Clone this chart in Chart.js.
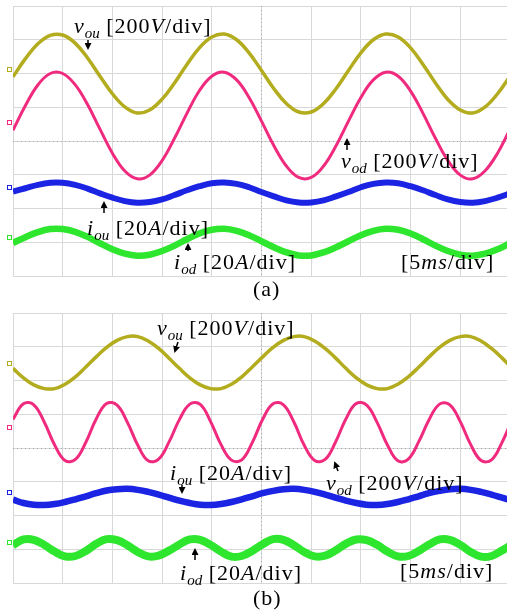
<!DOCTYPE html>
<html>
<head>
<meta charset="utf-8">
<script src="https://cdn.jsdelivr.net/npm/chart.js@4.4.1/dist/chart.umd.min.js"></script>
<style>
  body { margin: 0; background: #fff; }
  #wrap { position: relative; width: 507px; height: 614px; overflow: hidden; }
  canvas { position: absolute; left: 0; }
  #plotA { top: 5px; }
  #plotB { top: 312px; }
  svg { position: absolute; left: 0; top: 0; }
  svg text { font-family: "Liberation Serif", "Times New Roman", serif; font-size: 22px; letter-spacing: 1px; fill: #000; white-space: pre; }
  svg .sub { font-size: 15px; font-style: italic; letter-spacing: 0; }
  svg .it { font-style: italic; }
</style>
</head>
<body>
<div id="wrap">
  <canvas id="plotA" width="507" height="272"></canvas>
  <canvas id="plotB" width="507" height="272"></canvas>
  <svg width="507" height="614">
    <defs>
      <marker id="ah" markerWidth="7" markerHeight="7" refX="5" refY="3.5" orient="auto" markerUnits="userSpaceOnUse">
        <path d="M0,0 L7,3.5 L0,7 z" fill="#000"/>
      </marker>
    </defs>
    <!-- panel (a) -->
    <text x="74" y="33"><tspan class="it">v</tspan><tspan class="sub" dy="5">ou</tspan><tspan dy="-5"> [200</tspan><tspan class="it">V</tspan>/div]</text>
    <line x1="88" y1="40" x2="88" y2="48" stroke="#000" stroke-width="1.5" marker-end="url(#ah)"/>
    <text x="341" y="168"><tspan class="it">v</tspan><tspan class="sub" dy="5">od</tspan><tspan dy="-5"> [200</tspan><tspan class="it">V</tspan>/div]</text>
    <line x1="347" y1="150" x2="347" y2="140" stroke="#000" stroke-width="1.5" marker-end="url(#ah)"/>
    <text x="87" y="235"><tspan class="it">i</tspan><tspan class="sub" dy="5">ou</tspan><tspan dy="-5"> [20</tspan><tspan class="it">A</tspan>/div]</text>
    <line x1="104" y1="213" x2="104" y2="203" stroke="#000" stroke-width="1.5" marker-end="url(#ah)"/>
    <text x="174" y="269"><tspan class="it">i</tspan><tspan class="sub" dy="5">od</tspan><tspan dy="-5"> [20</tspan><tspan class="it">A</tspan>/div]</text>
    <line x1="188" y1="251" x2="188" y2="245" stroke="#000" stroke-width="1.5" marker-end="url(#ah)"/>
    <text x="401" y="269">[5<tspan class="it">ms</tspan>/div]</text>
    <text x="253" y="296">(a)</text>
    <!-- panel (b) -->
    <text x="157" y="335"><tspan class="it">v</tspan><tspan class="sub" dy="5">ou</tspan><tspan dy="-5"> [200</tspan><tspan class="it">V</tspan>/div]</text>
    <line x1="178" y1="342" x2="175" y2="351" stroke="#000" stroke-width="1.5" marker-end="url(#ah)"/>
    <text x="326" y="490"><tspan class="it">v</tspan><tspan class="sub" dy="5">od</tspan><tspan dy="-5"> [200</tspan><tspan class="it">V</tspan>/div]</text>
    <line x1="338" y1="471" x2="335" y2="463" stroke="#000" stroke-width="1.5" marker-end="url(#ah)"/>
    <text x="170" y="480"><tspan class="it">i</tspan><tspan class="sub" dy="5">ou</tspan><tspan dy="-5"> [20</tspan><tspan class="it">A</tspan>/div]</text>
    <line x1="182" y1="485" x2="182" y2="492" stroke="#000" stroke-width="1.5" marker-end="url(#ah)"/>
    <text x="180" y="580"><tspan class="it">i</tspan><tspan class="sub" dy="5">od</tspan><tspan dy="-5"> [20</tspan><tspan class="it">A</tspan>/div]</text>
    <line x1="195" y1="560" x2="195" y2="550" stroke="#000" stroke-width="1.5" marker-end="url(#ah)"/>
    <text x="400" y="578">[5<tspan class="it">ms</tspan>/div]</text>
    <text x="253" y="605">(b)</text>
  </svg>
</div>
<script>
// time axis in ms, vertical values in scope divisions (0 = bottom, 8 = top)
const timeA = [0, 1.25, 2.5, 3.75, 5, 6.25, 7.5, 8.75, 10, 11.25, 12.5, 13.75, 15, 16.25, 17.5, 18.75, 20, 21.25, 22.5, 23.75, 25,
  26.25, 27.5, 28.75, 30, 31.25, 32.5, 33.75, 35, 36.25, 37.5, 38.75, 40, 41.25, 42.5, 43.75, 45, 46.25, 47.5, 48.75, 50];
const vouA = [5.90, 6.44, 6.88, 7.13, 7.14, 6.90, 6.46, 5.92, 5.40, 5.01, 4.83, 4.92, 5.24, 5.72, 6.27, 6.76, 7.08, 7.17, 7.00, 6.61, 6.09,
  5.55, 5.11, 4.86, 4.86, 5.11, 5.55, 6.09, 6.61, 7.00, 7.17, 7.08, 6.76, 6.27, 5.72, 5.23, 4.92, 4.83, 5.01, 5.40, 5.92];
const vodA = [4.32, 5.05, 5.66, 6.00, 6.00, 5.67, 5.08, 4.35, 3.64, 3.11, 2.88, 2.99, 3.42, 4.08, 4.82, 5.49, 5.92, 6.04, 5.81, 5.29, 4.59,
  3.86, 3.26, 2.92, 2.92, 3.26, 3.86, 4.59, 5.29, 5.81, 6.04, 5.92, 5.48, 4.82, 4.08, 3.42, 2.99, 2.88, 3.12, 3.64, 4.35];
const iouA = [2.50, 2.60, 2.70, 2.76, 2.76, 2.70, 2.59, 2.45, 2.32, 2.22, 2.17, 2.19, 2.27, 2.40, 2.54, 2.66, 2.75, 2.77, 2.73, 2.63, 2.49,
  2.36, 2.24, 2.18, 2.18, 2.24, 2.36, 2.49, 2.63, 2.73, 2.77, 2.75, 2.66, 2.54, 2.40, 2.27, 2.19, 2.17, 2.22, 2.32, 2.45];
const iodA = [0.98, 1.15, 1.30, 1.39, 1.39, 1.31, 1.16, 0.97, 0.79, 0.66, 0.60, 0.63, 0.74, 0.90, 1.09, 1.26, 1.37, 1.40, 1.34, 1.21, 1.03,
  0.85, 0.70, 0.61, 0.61, 0.70, 0.85, 1.03, 1.21, 1.34, 1.40, 1.37, 1.26, 1.09, 0.90, 0.74, 0.63, 0.60, 0.66, 0.79, 0.97];

const timeB = [0, 1.05, 2.09, 3.14, 4.19, 5.23, 6.28, 7.33, 8.37, 9.42, 10.47, 11.51, 12.56, 13.6, 14.65, 15.7, 16.74, 17.79, 18.84,
  19.88, 20.93, 21.98, 23.02, 24.07, 25.12, 26.16, 27.21, 28.26, 29.3, 30.35, 31.4, 32.44, 33.49, 34.53, 35.58, 36.63, 37.67,
  38.72, 39.77, 40.81, 41.86, 42.91, 43.95, 45.0, 46.05, 47.09, 48.14, 49.19, 50.23];
const vouB = [6.36, 6.08, 5.87, 5.76, 5.76, 5.89, 6.11, 6.40, 6.70, 6.98, 7.19, 7.30, 7.30, 7.17, 6.95, 6.66, 6.36, 6.08, 5.87,
  5.76, 5.76, 5.89, 6.11, 6.40, 6.70, 6.98, 7.19, 7.30, 7.30, 7.17, 6.95, 6.67, 6.36, 6.08, 5.87, 5.76, 5.76,
  5.89, 6.11, 6.39, 6.70, 6.98, 7.19, 7.30, 7.30, 7.17, 6.95, 6.67, 6.36];
const vodB = [4.85, 5.31, 5.28, 4.77, 4.09, 3.63, 3.66, 4.17, 4.86, 5.32, 5.27, 4.76, 4.08, 3.62, 3.67, 4.18, 4.84, 5.30, 5.29,
  4.78, 4.10, 3.64, 3.65, 4.16, 4.85, 5.31, 5.28, 4.77, 4.08, 3.63, 3.66, 4.17, 4.86, 5.32, 5.27, 4.76, 4.09,
  3.62, 3.67, 4.18, 4.84, 5.30, 5.28, 4.78, 4.10, 3.63, 3.65, 4.16, 4.85];
const iouB = [2.47, 2.37, 2.32, 2.31, 2.34, 2.40, 2.48, 2.57, 2.66, 2.74, 2.78, 2.79, 2.76, 2.70, 2.62, 2.53, 2.44, 2.37, 2.32,
  2.31, 2.34, 2.40, 2.48, 2.57, 2.66, 2.73, 2.78, 2.79, 2.76, 2.70, 2.62, 2.53, 2.44, 2.37, 2.32, 2.31, 2.34,
  2.40, 2.48, 2.57, 2.66, 2.73, 2.78, 2.79, 2.76, 2.70, 2.62, 2.53, 2.44];
const iodB = [1.12, 1.29, 1.28, 1.13, 0.93, 0.79, 0.80, 0.95, 1.16, 1.30, 1.27, 1.12, 0.92, 0.79, 0.81, 0.96, 1.14, 1.29, 1.28,
  1.13, 0.93, 0.78, 0.80, 0.95, 1.15, 1.30, 1.28, 1.12, 0.92, 0.79, 0.81, 0.96, 1.16, 1.29, 1.27, 1.13, 0.93,
  0.79, 0.80, 0.95, 1.14, 1.29, 1.28, 1.13, 0.92, 0.78, 0.80, 0.96, 1.15];

// channel ground markers on the left edge
const refA = [6.1, 4.53, 2.6, 1.13];
const refB = [6.5, 4.6, 2.68, 1.18];

const X_MAX = 49.7;
const colors = ["#b2ac1e", "#f02a7e", "#1c24e4", "#2ee62e"];

function pts(t, v) {
  return t.map((x, i) => ({ x: x, y: v[i] }));
}

const scopeDecor = {
  id: "scopeDecor",
  beforeDatasetsDraw(chart) {
    const { ctx, chartArea, scales } = chart;
    const cy = Math.round(scales.y.getPixelForValue(4)) + 0.5;
    const cx = Math.round(scales.x.getPixelForValue(25)) + 0.5;
    ctx.save();
    ctx.strokeStyle = "#a8a8a8";
    ctx.lineWidth = 1;
    ctx.setLineDash([1, 3]);
    ctx.beginPath();
    ctx.moveTo(chartArea.left, cy);
    ctx.lineTo(chartArea.right, cy);
    ctx.moveTo(cx, chartArea.top);
    ctx.lineTo(cx, chartArea.bottom);
    ctx.stroke();
    ctx.restore();
  },
  afterDatasetsDraw(chart, args, opts) {
    const { ctx, scales } = chart;
    ctx.save();
    ctx.lineWidth = 1;
    opts.levels.forEach((v, i) => {
      const py = Math.round(scales.y.getPixelForValue(v));
      ctx.strokeStyle = colors[i];
      ctx.strokeRect(7.5, py - 2.5, 4, 4);
    });
    ctx.restore();
  },
};

function makeScope(id, t, series, widths, levels) {
  new Chart(document.getElementById(id), {
    type: "line",
    data: {
      datasets: series.map((s, i) => ({
        data: pts(t, s),
        borderColor: colors[i],
        borderWidth: widths[i],
        pointRadius: 0,
        tension: 0.4,
        fill: false,
        borderJoinStyle: "round",
      })),
    },
    options: {
      responsive: false,
      animation: false,
      layout: { padding: { left: 13, top: 1, bottom: 1, right: 0 } },
      plugins: {
        legend: { display: false },
        tooltip: { enabled: false },
        scopeDecor: { levels: levels },
      },
      scales: {
        x: {
          type: "linear",
          min: 0,
          max: X_MAX,
          ticks: { display: false, stepSize: 5, includeBounds: false },
          grid: { color: "#d8d8d8", drawTicks: false },
          border: { display: false },
        },
        y: {
          min: 0,
          max: 8,
          ticks: { display: false, stepSize: 1 },
          grid: { color: "#d8d8d8", drawTicks: false },
          border: { display: false },
        },
      },
    },
    plugins: [scopeDecor],
  });
}

makeScope("plotA", timeA, [vouA, vodA, iouA, iodA], [3.5, 3, 6, 6.5], refA);
makeScope("plotB", timeB, [vouB, vodB, iouB, iodB], [3.5, 3, 6.5, 8], refB);
</script>
</body>
</html>
